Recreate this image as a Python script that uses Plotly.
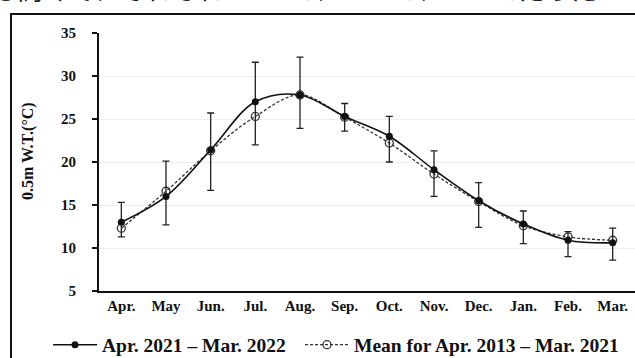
import plotly.graph_objects as go

months = ["Apr.", "May", "Jun.", "Jul.", "Aug.", "Sep.", "Oct.", "Nov.", "Dec.", "Jan.", "Feb.", "Mar."]
wt_2021 = [13.0, 16.0, 21.4, 27.0, 27.8, 25.3, 23.0, 19.1, 15.5, 12.8, 10.9, 10.6]
wt_mean = [12.3, 16.6, 21.3, 25.3, 27.8, 25.2, 22.2, 18.6, 15.4, 12.6, 11.3, 10.9]
wt_max = [15.3, 20.1, 25.7, 31.6, 32.2, 26.8, 25.3, 21.3, 17.6, 14.3, 11.9, 12.3]
wt_min = [11.3, 12.7, 16.7, 22.0, 23.9, 23.6, 20.0, 16.0, 12.4, 10.5, 9.0, 8.6]
y_ticks = [5, 10, 15, 20, 25, 30, 35]
name_2021 = "Apr. 2021 – Mar. 2022"
name_mean = "Mean for Apr. 2013 – Mar. 2021"
y_title = "0.5m W.T.(°C)"
top_text = "も高くて、それぞれ27.38℃、27.0℃、26.8℃だった"

err_plus = [hi - v for hi, v in zip(wt_max, wt_2021)]
err_minus = [v - lo for lo, v in zip(wt_min, wt_2021)]

SERIF = "Liberation Serif, Times New Roman, serif"
W, H = 635, 358
L, R, T, B = 99, 0, 33, 67
PW, PH = W - L - R, H - T - B

fig = go.Figure()
fig.add_trace(go.Scatter(
    x=months, y=wt_mean, name=name_mean, mode="lines+markers", legend="legend2",
    line=dict(color="#333333", width=1.3, dash="3px,2px", shape="spline"),
    marker=dict(symbol="circle-open", size=8, color="#333333", line=dict(width=1.3)),
))
fig.add_trace(go.Scatter(
    x=months, y=wt_2021, name=name_2021, mode="lines+markers", legend="legend",
    line=dict(color="#111111", width=1.6, shape="spline"),
    marker=dict(symbol="circle", size=7, color="#111111"),
    error_y=dict(type="data", array=err_plus, arrayminus=err_minus, symmetric=False,
                 color="#222222", thickness=1.3, width=3.5),
))

legend_common = dict(orientation="h", xref="container", yref="container",
                     xanchor="left", y=1 - 345 / H, yanchor="middle",
                     font=dict(size=19.5, family=SERIF, weight="bold"),
                     bgcolor="rgba(0,0,0,0)", itemwidth=44)

fig.update_layout(
    width=W, height=H,
    margin=dict(l=L, r=R, t=T, b=B, autoexpand=False),
    paper_bgcolor="white", plot_bgcolor="white",
    font=dict(family=SERIF, color="#111111"),
    showlegend=True,
    legend=dict(x=48 / W, **legend_common),
    legend2=dict(x=300 / W, **legend_common),
    xaxis=dict(type="category", categoryorder="array", categoryarray=months,
               range=[-0.5, 11.5], showline=True, linecolor="#111111", linewidth=2,
               ticks="", showgrid=False, automargin=False,
               tickfont=dict(size=15, family=SERIF, weight="bold")),
    yaxis=dict(range=[5, 35], tickvals=y_ticks, showline=True, linecolor="#111111",
               linewidth=2, ticks="outside", ticklen=5, tickwidth=1.5, tickcolor="#111111",
               showgrid=True, gridcolor="#eeeeee", gridwidth=1, zeroline=False,
               automargin=False, tickfont=dict(size=15, family=SERIF, weight="bold"),
               ticklabelstandoff=13),
    annotations=[
        dict(text="<b>" + y_title + "</b>", xref="paper", yref="paper",
             x=(28 - L) / PW, y=(H - B - 151) / PH, showarrow=False, textangle=-90,
             font=dict(size=16, family=SERIF), xanchor="center", yanchor="middle"),
        dict(text=top_text, xref="paper", yref="paper", x=(-11 - L) / PW,
             y=1 + (T + 11) / PH, showarrow=False, xanchor="left", yanchor="middle",
             font=dict(size=26, family="Noto Sans CJK JP", color="#222222")),
    ],
    shapes=[dict(type="rect", xref="paper", yref="paper",
                 x0=(11 - L) / PW, x1=1.05, y0=-0.35, y1=(H - B - 14) / PH,
                 line=dict(color="#111111", width=2), fillcolor="rgba(0,0,0,0)", layer="below")],
)

fig.write_html("out.html", config={"displayModeBar": False},
               post_script="document.body.style.margin='0px';")
